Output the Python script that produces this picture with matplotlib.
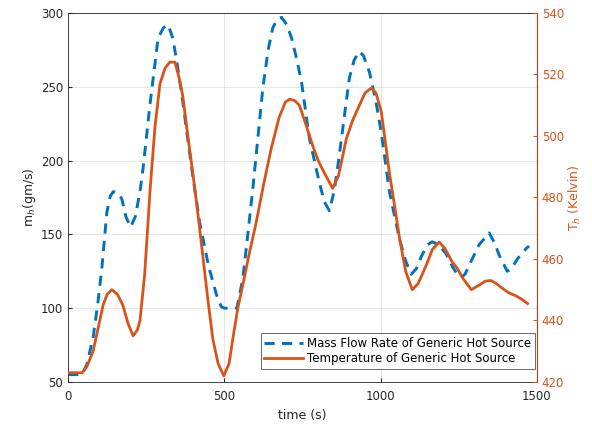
import numpy as np
import matplotlib
matplotlib.use('Agg')
import matplotlib.pyplot as plt

# Mass flow rate of generic hot source (gm/s)
t_flow = [0, 25, 45, 60, 80, 95, 108, 124, 135, 145, 160, 172, 185, 200, 215,
          230, 240, 262, 288, 305, 320, 335, 348, 365, 380, 400, 421, 450, 475,
          490, 500, 540, 559, 575, 591, 607, 623, 640, 655, 670, 683, 700, 715,
          730, 747, 772, 804, 820, 836, 852, 868, 885, 900, 915, 932, 945, 964,
          985, 1002, 1028, 1045, 1060, 1080, 1098, 1115, 1130, 1150, 1165, 1185,
          1209, 1230, 1245, 1258, 1270, 1283, 1315, 1347, 1365, 1379, 1405, 1420,
          1436, 1468, 1475]
m_flow = [55, 55, 55, 62, 80, 103, 127, 165, 176, 179, 178, 174, 162, 155, 162,
          179, 195, 238, 283, 290, 292, 283, 267, 243, 219, 188, 158, 128, 109,
          101, 100, 100, 120, 150, 181, 215, 249, 275, 290, 296, 297, 292, 283,
          270, 253, 215, 185, 172, 166, 180, 204, 232, 256, 268, 274, 271, 260,
          240, 219, 179, 162, 147, 132, 123, 127, 135, 143, 145, 143,
          137, 128, 123, 121, 123, 129, 143, 151, 144, 136, 125, 127,
          133, 141, 142]

# Temperature of generic hot source (K)
t_temp = [0, 45, 60, 80, 95, 112, 125, 140, 158, 175, 192, 208, 222, 230, 245,
          262, 278, 294, 310, 325, 342, 355, 367, 383, 399, 415, 431, 447, 463,
          480, 498, 515, 530, 543, 560, 580, 600, 625, 650, 675, 695, 709, 725,
          740, 760, 782, 800, 820, 846, 865, 890, 910, 932, 950, 970, 985, 1002,
          1015, 1028, 1045, 1060, 1080, 1101, 1120, 1146, 1165, 1187, 1205, 1229,
          1245, 1261, 1290, 1315, 1335, 1353, 1370, 1389, 1410, 1433, 1450, 1470]
T_temp = [423, 423, 425, 430, 437, 445, 448.5, 450, 448.5, 445, 439, 435, 437, 440, 455,
          482, 503, 517, 522, 524, 524, 519, 513, 500, 488, 475, 461, 447, 434,
          426, 422, 426, 436, 444, 452, 462, 471, 484, 496, 506, 511, 512, 511.5,
          510, 504, 497, 492, 488, 483, 487, 499, 505, 510, 514, 515.6, 514, 508,
          498, 488, 477, 467, 456, 450, 452, 458, 463, 465.5, 463.5, 459,
          457, 454, 450, 451.5, 452.8, 453, 452, 450.5, 449, 448, 447, 445.5]

blue = '#0072BD'
orange = '#D95319'
dark = '#262626'

plt.rcParams['font.family'] = 'DejaVu Sans'
fig = plt.figure(figsize=(5.92, 4.29), dpi=100)
ax = fig.add_axes([0.115, 0.1096, 0.792, 0.8601])
ax2 = ax.twinx()

l1, = ax.plot(t_flow, m_flow, color=blue, linewidth=2.1, linestyle=(0, (3.5, 2.5)),
              label='Mass Flow Rate of Generic Hot Source')
l2, = ax2.plot(t_temp, T_temp, color=orange, linewidth=2.0,
               label='Temperature of Generic Hot Source')

ax.set_xlim(0, 1500)
ax.set_ylim(50, 300)
ax2.set_ylim(420, 540)
ax.set_xticks([0, 500, 1000, 1500])
ax.set_yticks([50, 100, 150, 200, 250, 300])
ax2.set_yticks([420, 440, 460, 480, 500, 520, 540])

ax.grid(True, color=dark, alpha=0.13, linewidth=0.6)
ax.tick_params(direction='in', labelsize=8.5, colors=dark, length=3)
ax.tick_params(axis='x', pad=6)
ax2.tick_params(direction='in', labelsize=8.5, colors=orange, length=3)
for s in ['left', 'top', 'bottom']:
    ax.spines[s].set_color(dark)
    ax.spines[s].set_linewidth(0.6)
ax2.spines['right'].set_color(orange)
ax2.spines['right'].set_linewidth(0.6)
for s in ['left', 'top', 'bottom']:
    ax2.spines[s].set_visible(False)

ax.set_xlabel('time (s)', fontsize=9, color=dark)
ax.set_ylabel(r'm$_h$(gm/s)', fontsize=9, color=dark, labelpad=2)
ax2.set_ylabel(r'T$_h$ (Kelvin)', fontsize=9, color=orange, labelpad=2)

leg = ax.legend(handles=[l1, l2], loc='lower right', bbox_to_anchor=(1.0, 0.03),
                fontsize=8.5, frameon=True, fancybox=False, borderaxespad=0.2,
                handlelength=3.3, handletextpad=0.3, borderpad=0.3,
                labelspacing=0.2)
leg.get_frame().set_edgecolor(dark)
leg.get_frame().set_linewidth(0.6)
leg.set_zorder(5)

plt.savefig('out.png', dpi=100)
